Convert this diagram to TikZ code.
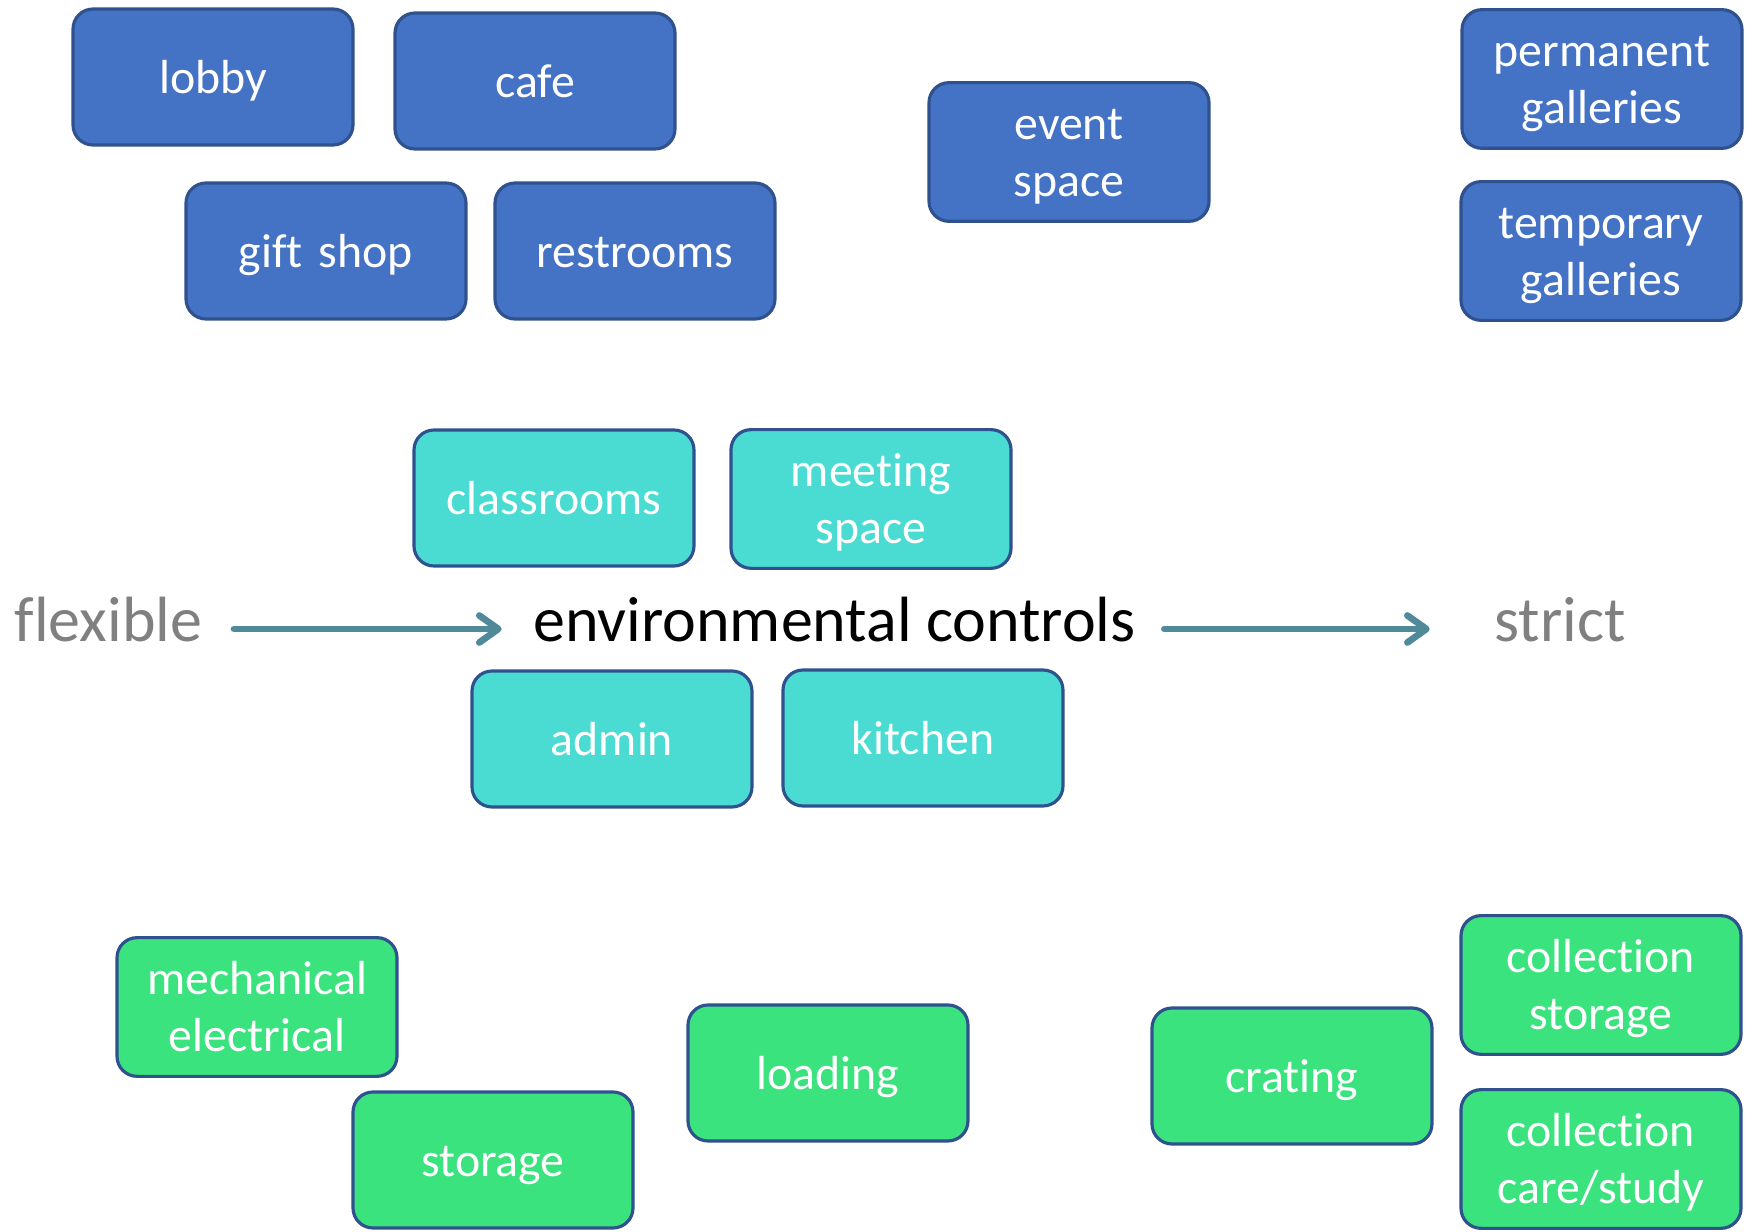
\documentclass[tikz,border=0pt]{standalone}
\usepackage{fontspec}
\setmainfont{Carlito}[Ligatures={NoCommon}]
\usepackage{xcolor}
\usetikzlibrary{arrows.meta}

\definecolor{boxblue}{HTML}{4472C4}
\definecolor{boxcyan}{HTML}{4ADCD3}
\definecolor{boxgreen}{HTML}{3AE37D}
\definecolor{boxborder}{HTML}{2F528F}
\definecolor{flowteal}{HTML}{50899A}
\definecolor{labelgrey}{HTML}{808080}

\begin{document}
\begin{tikzpicture}
\tikzstyle{space} = [rectangle, rounded corners=0.2cm, draw=boxborder, line width=0.9pt,
  minimum width=2.80cm, minimum height=1.36cm, inner xsep=0.15cm, text width=2.5cm, align=center,
  text=white, font=\fontsize{13.6pt}{16.2pt}\selectfont,
  execute at begin node={\rule{0pt}{0.95em}},
  execute at end node={\rule[-0.27em]{0pt}{0.27em}}]
\tikzstyle{public} = [space, fill=boxblue]
\tikzstyle{support} = [space, fill=boxcyan]
\tikzstyle{service} = [space, fill=boxgreen]
\tikzstyle{axislabel} = [anchor=base, inner sep=0pt, font=\fontsize{18.2pt}{21pt}\selectfont]
\tikzstyle{flow} = [draw=flowteal, line width=1.9pt, line cap=round,
  -{Straight Barb[length=0.19cm, width=0.27cm, line join=round, line cap=round]}]

\useasboundingbox (0,0) rectangle (17.54,12.32);

\node(lobby) [public] at (2.13,11.55) {lobby};
\node(cafe) [public] at (5.35,11.51) {cafe};
\node(giftShop) [public] at (3.26,9.81) {gift shop};
\node(restrooms) [public] at (6.35,9.81) {restrooms};
\node(eventSpace) [public] at (10.69,10.80) {event\\space};
\node(permGalleries) [public] at (16.02,11.53) {permanent\\galleries};
\node(tempGalleries) [public] at (16.01,9.81) {temporary\\galleries};

\node(classrooms) [support] at (5.54,7.34) {classrooms};
\node(meetingSpace) [support] at (8.71,7.33) {meeting\\space};
\node(admin) [support] at (6.12,4.93) {admin};
\node(kitchen) [support] at (9.23,4.94) {kitchen};

\node(mechElec) [service] at (2.57,2.25) {mechanical\\electrical};
\node(storage) [service] at (4.93,0.72) {storage};
\node(loading) [service] at (8.28,1.59) {loading};
\node(crating) [service] at (12.92,1.56) {crating};
\node(collStorage) [service] at (16.01,2.47) {collection\\storage};
\node(collCare) [service] at (16.01,0.73) {collection\\care/study};

\node(flexible) [axislabel, text=labelgrey] at (1.085,5.90) {flexible};
\node(envControls) [axislabel, text=black] at (8.345,5.90) {environmental controls};
\node(strict) [axislabel, text=labelgrey] at (15.60,5.90) {strict};

\draw[flow] ([xshift=0.31cm,yshift=0.13cm]flexible.base east) -- ([xshift=-0.31cm,yshift=0.13cm]envControls.base west);
\draw[flow] ([xshift=0.28cm,yshift=0.13cm]envControls.base east) -- ([xshift=-0.64cm,yshift=0.13cm]strict.base west);
\end{tikzpicture}
\end{document}
